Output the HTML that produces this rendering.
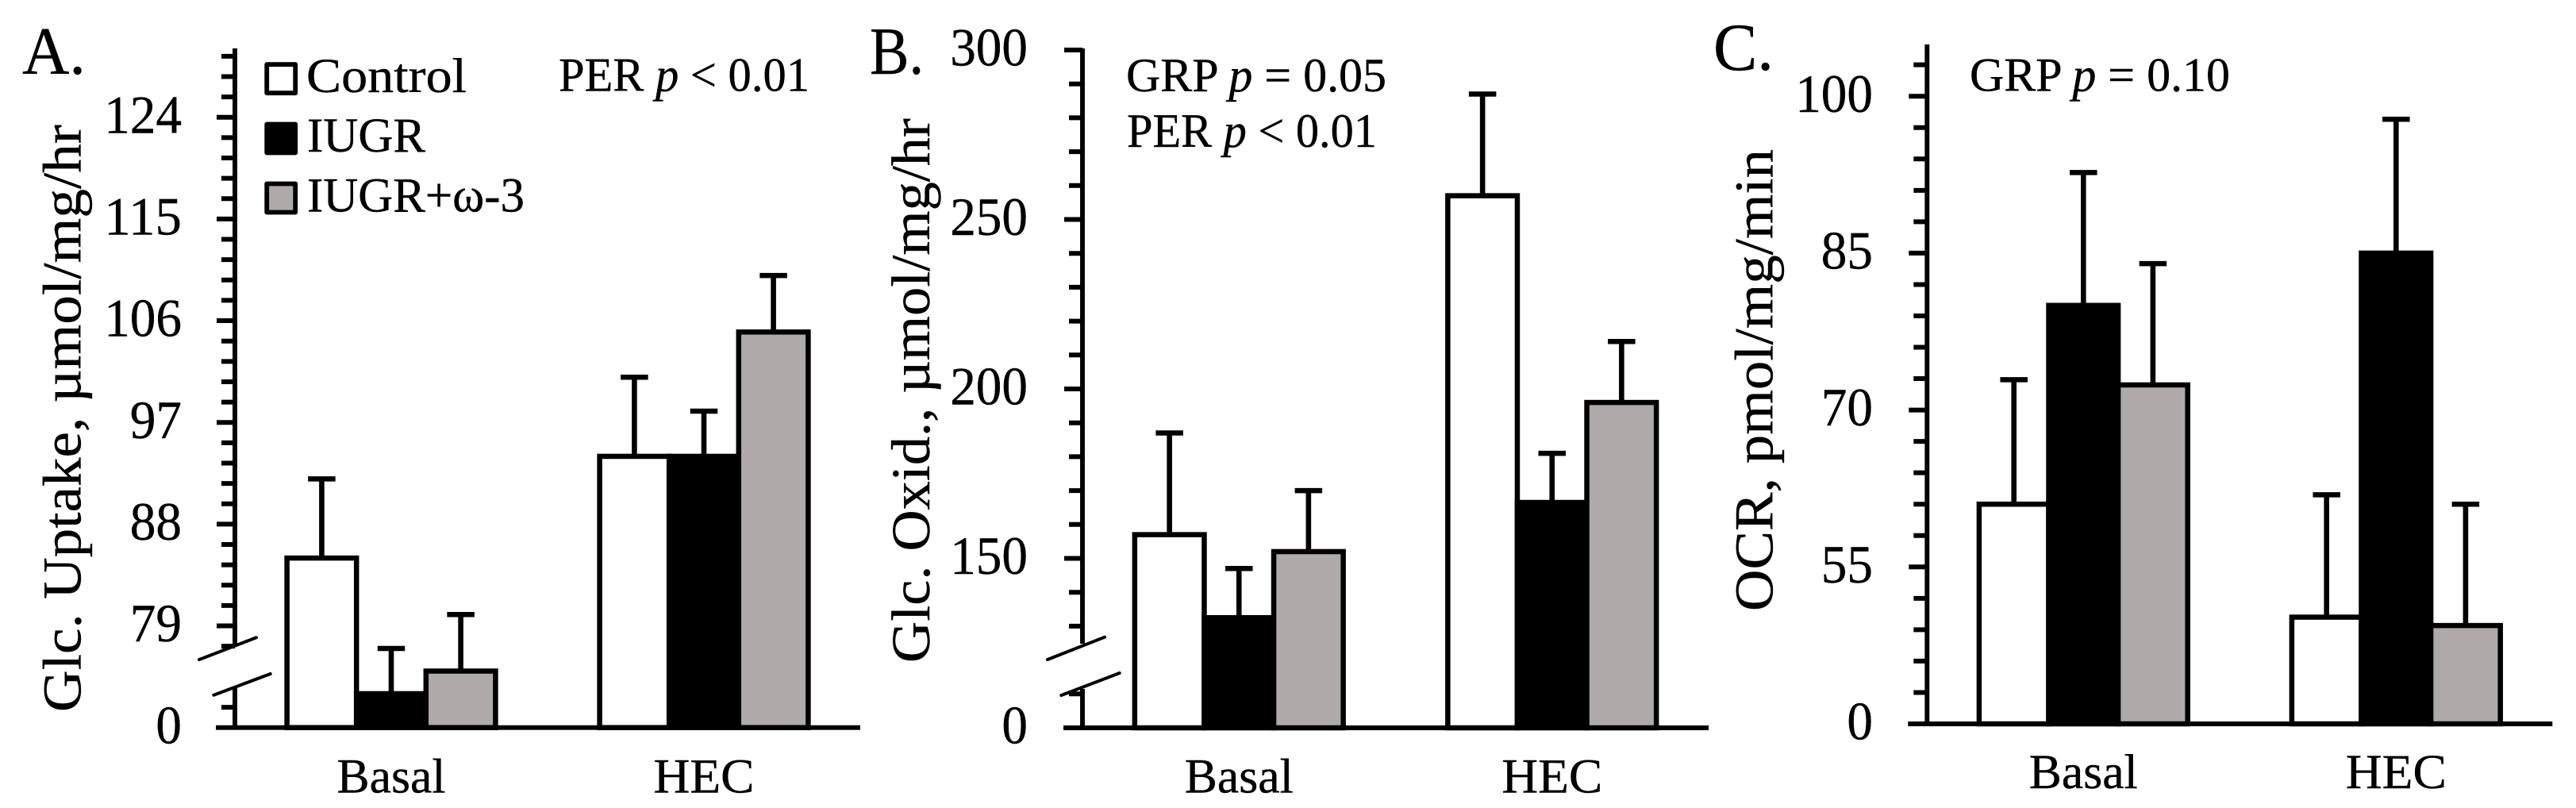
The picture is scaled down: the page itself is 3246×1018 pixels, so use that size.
<!DOCTYPE html>
<html lang="en">
<head>
<meta charset="utf-8">
<title>Glucose uptake, glucose oxidation and OCR</title>
<style>
  html, body { margin: 0; padding: 0; background: #fff; }
  svg { display: block; }
  text { font-family: "Liberation Serif", "Noto Serif CJK SC", serif; fill: #000; stroke: #000; stroke-width: 0.4px; }
</style>
</head>
<body>
<svg id="chart" xmlns="http://www.w3.org/2000/svg" width="3246" height="1018" viewBox="0 0 3246 1018">
  <rect x="0" y="0" width="3246" height="1018" fill="#fff"></rect>

  <text x="28" y="93" font-size="85" textLength="80" lengthAdjust="spacingAndGlyphs">A.</text>
  <text x="1096" y="93" font-size="85" textLength="68" lengthAdjust="spacingAndGlyphs">B.</text>
  <text x="2159" y="88" font-size="85" textLength="76" lengthAdjust="spacingAndGlyphs">C.</text>

  <text transform="translate(101.7,897) rotate(-90)" font-size="69" textLength="740" lengthAdjust="spacingAndGlyphs">Glc. Uptake, µmol/mg/hr</text>
  <text transform="translate(1171,835) rotate(-90)" font-size="69" textLength="686" lengthAdjust="spacingAndGlyphs">Glc. Oxid., µmol/mg/hr</text>
  <text transform="translate(2233.3,770) rotate(-90)" font-size="69" textLength="582" lengthAdjust="spacingAndGlyphs">OCR, pmol/mg/min</text>

  <text x="704" y="114.5" font-size="60" textLength="316" lengthAdjust="spacingAndGlyphs">PER <tspan font-style="italic">p</tspan> &lt; 0.01</text>
  <text x="1419" y="115" font-size="60" textLength="328" lengthAdjust="spacingAndGlyphs">GRP <tspan font-style="italic">p</tspan> = 0.05</text>
  <text x="1420" y="185" font-size="60" textLength="315" lengthAdjust="spacingAndGlyphs">PER <tspan font-style="italic">p</tspan> &lt; 0.01</text>
  <text x="2482" y="114.5" font-size="60" textLength="328" lengthAdjust="spacingAndGlyphs">GRP <tspan font-style="italic">p</tspan> = 0.10</text>

  <g id="legend">
    <g>
      <rect x="336.2" y="81.2" width="36" height="36" fill="#fff" stroke="#000" stroke-width="5.8" stroke-linejoin="round"></rect>
      <text x="386" y="116" font-size="61" textLength="202" lengthAdjust="spacingAndGlyphs">Control</text>
    </g>
    <g>
      <rect x="336.2" y="156.5" width="36" height="36" fill="#000" stroke="#000" stroke-width="5.8" stroke-linejoin="round"></rect>
      <text x="387" y="191" font-size="61" textLength="149" lengthAdjust="spacingAndGlyphs">IUGR</text>
    </g>
    <g>
      <rect x="336.2" y="231.5" width="36" height="36" fill="#AEAAAA" stroke="#000" stroke-width="5.8" stroke-linejoin="round"></rect>
      <text x="387" y="266.7" font-size="61" textLength="274" lengthAdjust="spacingAndGlyphs">IUGR+ω-3</text>
    </g>
  </g>
</svg>

<script>
// ---- Shared categories and series ----
const categories = ['Basal', 'HEC'];
const seriesKeys = ['control', 'iugr', 'iugr-omega-3'];

// ---- Panel A: glucose uptake ----
const panelAControl = [85, 94];
const panelAIugr = [73, 94];
const panelAOmega3 = [75, 105];
const panelAControlErrorTop = [92, 101];
const panelAIugrErrorTop = [77, 98];
const panelAOmega3ErrorTop = [80, 110];
const panelATickLabels = [0, 79, 88, 97, 106, 115, 124];

// ---- Panel B: glucose oxidation ----
const panelBControl = [157, 257];
const panelBIugr = [132.5, 166.5];
const panelBOmega3 = [152, 196];
const panelBControlErrorTop = [187, 287];
const panelBIugrErrorTop = [147, 181];
const panelBOmega3ErrorTop = [170, 214];
const panelBTickLabels = [0, 150, 200, 250, 300];

// ---- Panel C: oxygen consumption rate ----
const panelCControl = [61, 50.2];
const panelCIugr = [80, 85];
const panelCOmega3 = [72.4, 49.4];
const panelCControlErrorTop = [72.9, 61.9];
const panelCIugrErrorTop = [92.7, 97.8];
const panelCOmega3ErrorTop = [84, 61];
const panelCTickLabels = [0, 55, 70, 85, 100];

const seriesFills = ['#fff', '#000', '#AEAAAA'];
const SVG_NS = 'http://www.w3.org/2000/svg';
const svg = document.getElementById('chart');

const panels = [
  {
    id: 'a', axisX: 296, axisTop: 61, baseY: 916.7, bandWidth: 394, pxPerUnit: 14.24,
    axisBreak: 70, tickUnit: 1.8, tickCount: 33, hiddenTicks: [2, 3],
    axisGap: [813, 865], breakLines: [[-45, -85.7, 27, -113.4], [-26.7, -41, 44.7, -67.7]],
    labelRight: 229, labelBaselineOffset: 19.6, categoryBaseline: 998.3,
    values: [panelAControl, panelAIugr, panelAOmega3],
    errorTops: [panelAControlErrorTop, panelAIugrErrorTop, panelAOmega3ErrorTop],
    tickLabels: panelATickLabels
  },
  {
    id: 'b', axisX: 1364, axisTop: 61, baseY: 917, bandWidth: 394.5, pxPerUnit: 4.27,
    axisBreak: 100, tickUnit: 10, tickCount: 20, hiddenTicks: [2],
    axisGap: [811, 868], breakLines: [[-44, -86, 28, -114.3], [-26.7, -41, 46.7, -69]],
    labelRight: 1295, labelBaselineOffset: 19.3, categoryBaseline: 998.3,
    values: [panelBControl, panelBIugr, panelBOmega3],
    errorTops: [panelBControlErrorTop, panelBIugrErrorTop, panelBOmega3ErrorTop],
    tickLabels: panelBTickLabels
  },
  {
    id: 'c', axisX: 2428.3, axisTop: 56, baseY: 912, bandWidth: 394, pxPerUnit: 13.18,
    axisBreak: 40, tickUnit: 3, tickCount: 21, hiddenTicks: [],
    axisGap: null, breakLines: [],
    labelRight: 2360, labelBaselineOffset: 19.6, categoryBaseline: 992.8,
    values: [panelCControl, panelCIugr, panelCOmega3],
    errorTops: [panelCControlErrorTop, panelCIugrErrorTop, panelCOmega3ErrorTop],
    tickLabels: panelCTickLabels
  }
];

const BAR_WIDTH = 87.6;
const BAR_STROKE = 6.5;
const STEM_STROKE = 6.6;
const CAP_STROKE = 6.5;
const CAP_WIDTH = 34.5;
const AXIS_STROKE = 5.9;
const TICK_STROKE = 6;

function node(tag, attrs, parent) {
  const el = document.createElementNS(SVG_NS, tag);
  Object.keys(attrs).forEach(function (k) { el.setAttribute(k, attrs[k]); });
  parent.appendChild(el);
  return el;
}

function yScale(p, value) {
  const units = value <= 0 ? 0 : Math.max(0, value - p.axisBreak);
  return p.baseY - units * p.pxPerUnit;
}
function yFromUnits(p, units) {
  return p.baseY - units * p.pxPerUnit;
}
function bandCenter(p, i) {
  return p.axisX + (i + 0.5) * p.bandWidth;
}
function barCenter(p, i, s) {
  return bandCenter(p, i) + (s - 1) * BAR_WIDTH;
}

panels.forEach(function (p) {
  const g = node('g', {}, svg);
  
  

  // y axis line, split at the break when there is one
  const segments = p.axisGap
    ? [[p.baseY, p.axisGap[1]], [p.axisGap[0], p.axisTop]]
    : [[p.baseY, p.axisTop]];
  segments.forEach(function (seg, n) {
    const axisLine = node('line', { x1: p.axisX, x2: p.axisX, y1: seg[0], y2: seg[1], stroke: '#000', 'stroke-width': AXIS_STROKE }, g);
    
    
  });

  // tick marks
  for (let step = 1; step <= p.tickCount; step++) {
    if (p.hiddenTicks.indexOf(step) >= 0) continue;
    const isMajor = step % 5 === 0;
    const y = yFromUnits(p, step * p.tickUnit);
    const tick = node('line', {
      x1: p.axisX - (isMajor ? 23 : 17), x2: p.axisX, y1: y, y2: y,
      stroke: '#000', 'stroke-width': TICK_STROKE
    }, g);
    
    
  }

  // tick labels
  p.tickLabels.forEach(function (label) {
    const t = node('text', {
      x: p.labelRight, y: yScale(p, label) + p.labelBaselineOffset,
      'text-anchor': 'end', 'font-size': 68,
      textLength: 32.6 * String(label).length, lengthAdjust: 'spacingAndGlyphs'
    }, g);
    t.textContent = String(label);
    
    
  });

  // axis break marks
  p.breakLines.forEach(function (b, n) {
    const br = node('line', {
      x1: p.axisX + b[0], y1: p.baseY + b[1], x2: p.axisX + b[2], y2: p.baseY + b[3],
      stroke: '#000', 'stroke-width': 4, 'stroke-linecap': 'round'
    }, g);
    
    
  });

  // bars with error bars, per category then series
  categories.forEach(function (cat, i) {
    p.values.forEach(function (series, s) {
      const cx = barCenter(p, i, s);
      const top = yScale(p, series[i]);
      const errTop = yScale(p, p.errorTops[s][i]);

      const stem = node('line', { x1: cx, x2: cx, y1: top, y2: errTop, stroke: '#000', 'stroke-width': STEM_STROKE }, g);
      
      

      const cap = node('line', { x1: cx - CAP_WIDTH / 2, x2: cx + CAP_WIDTH / 2, y1: errTop, y2: errTop, stroke: '#000', 'stroke-width': CAP_STROKE }, g);
      
      
    });
    p.values.forEach(function (series, s) {
      const cx = barCenter(p, i, s);
      const top = yScale(p, series[i]);
      const bar = node('rect', {
        x: cx - BAR_WIDTH / 2, y: top, width: BAR_WIDTH, height: p.baseY - top,
        fill: seriesFills[s], stroke: '#000', 'stroke-width': BAR_STROKE
      }, g);
      
      
    });

    const catLabel = node('text', {
      x: bandCenter(p, i), y: p.categoryBaseline, 'text-anchor': 'middle',
      'font-size': 61, textLength: i === 0 ? 137 : 127, lengthAdjust: 'spacingAndGlyphs'
    }, g);
    catLabel.textContent = cat;
    
    
  });

  // x axis line on top of the bars' bases
  const xAxis = node('line', {
    x1: p.axisX - 24, x2: p.axisX + 2 * p.bandWidth, y1: p.baseY, y2: p.baseY,
    stroke: '#000', 'stroke-width': AXIS_STROKE
  }, g);
  
  
});
</script>
</body>
</html>
